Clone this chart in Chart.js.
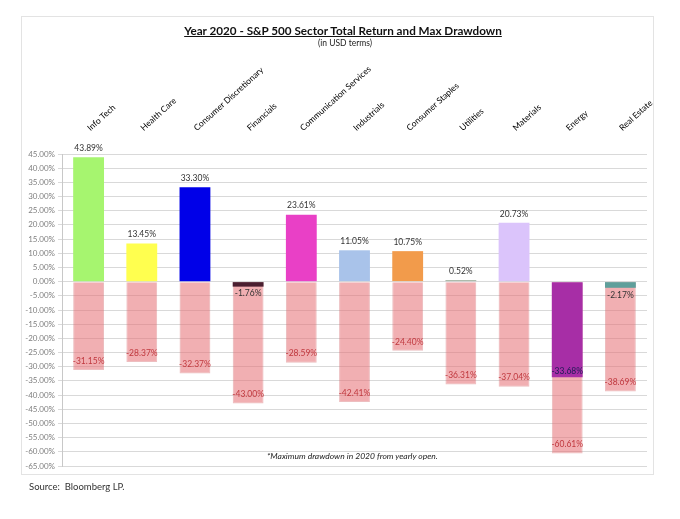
<!DOCTYPE html>
<html>
<head>
<meta charset="utf-8">
<title>S&P 500 Sector Total Return and Max Drawdown</title>
<script src="https://cdn.jsdelivr.net/npm/chart.js@4.4.1/dist/chart.umd.min.js"></script>
<style>
    body { margin: 0; background: #fff; font-family: Lato, "Open Sans", sans-serif; }
    #wrap { position: relative; width: 680px; height: 519px; }
    #frame { position: absolute; left: 21px; top: 16px; width: 633px; height: 459px; border: 1px solid #e3e3e3; box-sizing: border-box; }
    #chart { position: absolute; left: 0; top: 0; }
    .title { position: absolute; left: 0; width: 686px; text-align: center; top: 23px; font-size: 11.7px; font-weight: bold; color: #111; text-decoration: underline; }
    .subtitle { position: absolute; left: 0; width: 690px; text-align: center; top: 38px; font-size: 8.5px; color: #222; }
    .note { position: absolute; left: 267px; top: 451px; font-size: 8.5px; font-style: italic; color: #222; }
    .source { position: absolute; left: 29px; top: 481px; font-size: 9.5px; color: #333; }
</style>
</head>
<body>
<div id="wrap">
    <div id="frame"></div>
    <canvas id="chart" width="680" height="519"></canvas>
    <div class="title">Year 2020 - S&amp;P 500 Sector Total Return and Max Drawdown</div>
    <div class="subtitle">(in USD terms)</div>
    <div class="note">*Maximum drawdown in 2020 from yearly open.</div>
    <div class="source">Source:&nbsp; Bloomberg LP.</div>
</div>
<script>
const sectors = ['Info Tech', 'Health Care', 'Consumer Discretionary', 'Financials', 'Communication Services',
    'Industrials', 'Consumer Staples', 'Utilities', 'Materials', 'Energy', 'Real Estate'];
const totalReturn = [43.89, 13.45, 33.30, -1.76, 23.61, 11.05, 10.75, 0.52, 20.73, -33.68, -2.17];
const maxDrawdown = [-31.15, -28.37, -32.37, -43.00, -28.59, -42.41, -24.40, -36.31, -37.04, -60.61, -38.69];
const sectorColors = ['#a6f56f', '#ffff4f', '#0000e8', '#4a1f30', '#e940c6', '#a9c3ea',
    '#f29b4b', '#9fae9c', '#dbc4fb', '#a72ea6', '#5f9f9b'];
const yMin = -65, yMax = 45, yStep = 5;

// value labels on the bars
const barLabels = {
    id: 'barLabels',
    afterDatasetsDraw(chart) {
        const ctx = chart.ctx;
        ctx.save();
        ctx.textAlign = 'center';
        ctx.textBaseline = 'middle';
        ctx.font = '8.5px Lato, sans-serif';

        chart.getDatasetMeta(1).data.forEach((bar, i) => {
            ctx.fillStyle = '#c0393f';
            ctx.fillText(maxDrawdown[i].toFixed(2) + '%', bar.x, bar.y - 9);
        });

        chart.getDatasetMeta(0).data.forEach((bar, i) => {
            const v = totalReturn[i];
            const txt = v.toFixed(2) + '%';
            if (v >= 0) {
                ctx.fillStyle = '#333';
                ctx.fillText(txt, bar.x, bar.y - 9);
            } else if (bar.y - bar.base > 20) {
                ctx.fillStyle = '#1f1a55';
                ctx.fillText(txt, bar.x, bar.y - 6);
            } else {
                ctx.fillStyle = '#333';
                ctx.fillText(txt, bar.x, bar.y + 7);
            }
        });
        ctx.restore();
    }
};

new Chart(document.getElementById('chart'), {
    type: 'bar',
    data: {
        labels: sectors,
        datasets: [
            {
                label: 'Total Return',
                data: totalReturn,
                backgroundColor: sectorColors,
                grouped: false,
                barPercentage: 0.58,
                categoryPercentage: 1
            },
            {
                label: 'Max Drawdown',
                data: maxDrawdown,
                backgroundColor: 'rgba(230, 110, 115, 0.55)',
                borderColor: 'rgba(215, 110, 115, 0.45)',
                borderWidth: 1,
                grouped: false,
                barPercentage: 0.58,
                categoryPercentage: 1
            }
        ]
    },
    options: {
        responsive: false,
        animation: false,
        layout: { padding: { left: 0, right: 33, top: 0, bottom: 53 } },
        plugins: {
            legend: { display: false },
            tooltip: { enabled: false }
        },
        scales: {
            x: {
                position: 'top',
                grid: { display: false },
                border: { display: false },
                afterFit: (scale) => { scale.height = 154; },
                ticks: {
                    autoSkip: false,
                    minRotation: 42,
                    maxRotation: 42,
                    padding: 13,
                    labelOffset: 7,
                    color: '#000',
                    font: { family: 'Lato', size: 8.5 }
                }
            },
            y: {
                min: yMin,
                max: yMax,
                afterFit: (scale) => { scale.width = 62; },
                grid: { color: '#d9d9d9', tickLength: 4 },
                border: { color: '#c8c8c8' },
                ticks: {
                    stepSize: yStep,
                    padding: 3,
                    color: '#808080',
                    font: { family: 'Lato', size: 8 },
                    callback: (v) => v.toFixed(2) + '%'
                }
            }
        }
    },
    plugins: [barLabels]
});
</script>
</body>
</html>
